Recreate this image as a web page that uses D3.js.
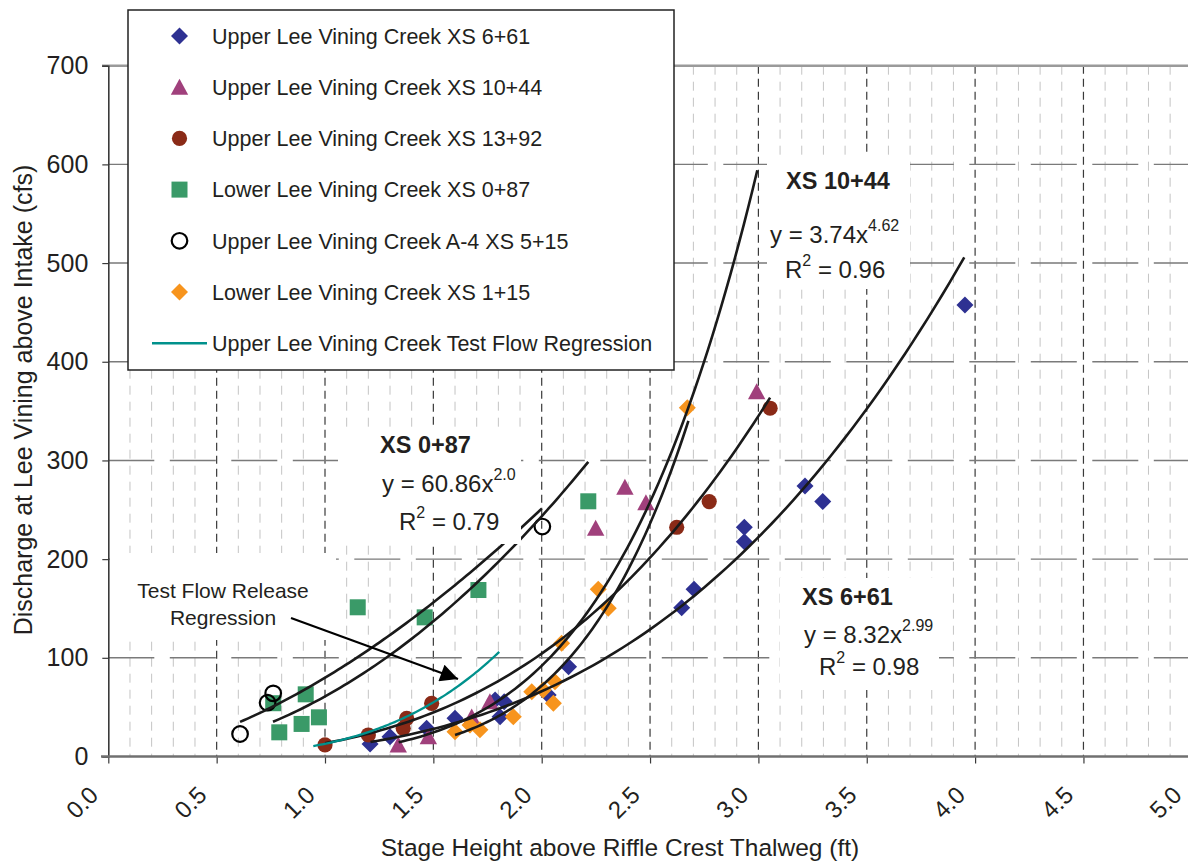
<!DOCTYPE html>
<html><head><meta charset="utf-8">
<script src="https://cdn.jsdelivr.net/npm/d3@7"></script>
<style>
html,body{margin:0;padding:0;background:#fff;}
svg{display:block;font-family:"Liberation Sans",Arial,Helvetica,sans-serif;}
</style></head><body>
<svg id="chart" width="1188" height="861"></svg>
<script>
// ---------- data ----------
const xTicks = [0, 0.5, 1, 1.5, 2, 2.5, 3, 3.5, 4, 4.5, 5];
const yTicks = [0, 100, 200, 300, 400, 500, 600, 700];

const legendNames = [
  "Upper Lee Vining Creek XS 6+61",
  "Upper Lee Vining Creek XS 10+44",
  "Upper Lee Vining Creek XS 13+92",
  "Lower Lee Vining Creek XS 0+87",
  "Upper Lee Vining Creek A-4 XS 5+15",
  "Lower Lee Vining Creek XS 1+15",
  "Upper Lee Vining Creek Test Flow Regression"
];

// [stage height (ft), discharge (cfs)]
const xs661 = [[1.208,12.7],[1.30,20],[1.469,28.6],[1.60,38.7],[1.785,57.3],[1.827,55.5],[1.808,40.3],
  [2.03,62.3],[2.124,91],[2.646,150.8],[2.703,169.4],[2.935,217.7],[2.935,232.3],[3.215,274.1],[3.297,258.3],[3.953,457.6]];
const xs1044 = [[1.338,11.7],[1.477,20],[1.677,40],[1.761,55.5],[2.249,231.3],[2.384,272.8],[2.481,257.2],[2.992,369.7]];
const xs1392 = [[1.0,11.7],[1.20,21.8],[1.361,28.6],[1.377,38.7],[1.492,53.9],[2.623,232.3],[2.773,258.3],[3.054,352.9]];
const xs087 = [[0.761,54],[0.789,24.5],[0.892,33],[0.911,63],[0.972,39.7],[1.151,151.2],[1.46,141],[1.708,168.7],[2.215,258.6]];
const xsA4 = [[0.608,22.8],[0.735,54.5],[0.761,64],[2.003,233]];
const xs115 = [[1.60,25],[1.669,32],[1.715,27],[1.869,40.3],[1.954,65.7],[2.007,67.4],[2.054,54],[2.061,75.8],
  [2.092,114.7],[2.261,169.4],[2.307,150.2],[2.672,353.5]];

// power-law trendlines y = a * x^b over [from, to]
const trendCoef = [8.32, 3.74, 13.5, 60.86, 79.8, 1.77];
const trendExp  = [2.99, 4.62, 2.95, 2.0, 1.654, 5.34];
const trendFrom = [1.21, 1.34, 1.0, 0.76, 0.608, 1.60];
const trendTo   = [3.95, 2.995, 3.054, 2.215, 2.0, 2.677];
// test flow regression (teal)
const testCoef = 12.9, testExp = 3.57, testFrom = 0.946, testTo = 1.804;

// ---------- setup ----------
const svg = d3.select("#chart");
const x = d3.scaleLinear().domain([0, 5]).range([108.3, 1191.8]);
const y = d3.scaleLinear().domain([0, 700]).range([756.5, 65.7]);
const txt = "#231f20";
const rightEdge = 1192;

// ---------- gridlines ----------
const grid = svg.append("g");
const minorX = d3.range(1, 50).map(i => i / 10).filter(v => Math.round(v * 10) % 5 !== 0);
grid.selectAll(".minor").data(minorX).enter().append("line")
  .attr("x1", d => x(d)).attr("x2", d => x(d))
  .attr("y1", y(700)).attr("y2", y(0))
  .attr("stroke", "#c4c4c4").attr("stroke-width", 1).attr("stroke-dasharray", "9,7");
grid.selectAll(".majorx").data(xTicks.filter(v => v > 0)).enter().append("line")
  .attr("x1", d => x(d)).attr("x2", d => x(d))
  .attr("y1", y(700)).attr("y2", y(0))
  .attr("stroke", "#3a3a3a").attr("stroke-width", 1.2).attr("stroke-dasharray", "8,5");
grid.selectAll(".majory").data(yTicks.filter(v => v > 0 && v < 700)).enter().append("line")
  .attr("x1", x(0)).attr("x2", rightEdge)
  .attr("y1", d => y(d)).attr("y2", d => y(d))
  .attr("stroke", "#7a7a7a").attr("stroke-width", 1.4).attr("stroke-dasharray", "46,15.5");
grid.append("line").attr("x1", 102).attr("x2", rightEdge).attr("y1", y(700)).attr("y2", y(700))
  .attr("stroke", "#9a9a9a").attr("stroke-width", 2.5);

// ---------- axes ----------
const yAxis = svg.append("g").attr("transform", `translate(${x(0)},0)`)
  .call(d3.axisLeft(y).tickValues(yTicks).tickSize(6).tickPadding(14).tickFormat(d3.format("d")));
yAxis.select(".domain").attr("stroke", "#3a3a3a").attr("stroke-width", 1.6);
yAxis.selectAll(".tick line").attr("stroke", "#3a3a3a").attr("stroke-width", 1.2);
yAxis.selectAll(".tick text").attr("font-size", 25).attr("fill", txt)
  .attr("font-family", '"Liberation Sans",Arial,sans-serif');

const xAxis = svg.append("g").attr("transform", `translate(0,${y(0)})`)
  .call(d3.axisBottom(x).tickValues(xTicks).tickSize(7).tickFormat(d3.format(".1f")));
xAxis.select(".domain").remove();
xAxis.selectAll(".tick line").attr("stroke", "#3a3a3a").attr("stroke-width", 1.2);
xAxis.selectAll(".tick text").attr("font-size", 24).attr("fill", txt)
  .attr("font-family", '"Liberation Sans",Arial,sans-serif')
  .attr("x", 0).attr("y", 0).attr("dy", 0)
  .attr("text-anchor", "end")
  .attr("transform", "translate(-9,40) rotate(-45)");
svg.append("line").attr("x1", 101).attr("x2", rightEdge).attr("y1", y(0)).attr("y2", y(0))
  .attr("stroke", "#707070").attr("stroke-width", 2.6);

// axis titles
svg.append("text").attr("x", 620).attr("y", 856).attr("text-anchor", "middle")
  .attr("font-size", 24.5).attr("fill", txt).text("Stage Height above Riffle Crest Thalweg (ft)");
svg.append("text").attr("transform", "translate(32,400) rotate(-90)").attr("text-anchor", "middle")
  .attr("font-size", 25).attr("fill", txt).text("Discharge at Lee Vining above Intake (cfs)");

// ---------- markers ----------
const colors = ["#2e3192", "#a0407c", "#8a2a17", "#3a9a68", "#000000", "#f7941d"];
const shapes = ["diamond", "triangle", "circle", "square", "open", "diamond"];
function drawMarker(g, shape, color) {
  if (shape === "diamond") g.append("path").attr("d", "M0,-8.5 L8.5,0 L0,8.5 L-8.5,0 Z").attr("fill", color);
  else if (shape === "triangle") g.append("path").attr("d", "M0,-8.5 L8.7,7.5 L-8.7,7.5 Z").attr("fill", color);
  else if (shape === "circle") g.append("circle").attr("r", 7.6).attr("fill", color);
  else if (shape === "square") g.append("rect").attr("x", -8).attr("y", -8).attr("width", 16).attr("height", 16).attr("fill", color);
  else if (shape === "open") g.append("circle").attr("r", 7.8).attr("fill", "none").attr("stroke", color).attr("stroke-width", 2.2);
}
const allSeries = [xs661, xs1044, xs1392, xs087, xsA4, xs115];
const markG = svg.append("g");
allSeries.forEach((s, i) => {
  s.forEach(p => {
    const g = markG.append("g").attr("transform", `translate(${x(p[0])},${y(p[1])})`);
    drawMarker(g, shapes[i], colors[i]);
  });
});

// ---------- trendlines ----------
const line = d3.line().x(d => x(d[0])).y(d => y(d[1])).curve(d3.curveLinear);
function powerCurve(a, b, from, to) {
  const n = 80;
  return d3.range(n + 1).map(i => { const xv = from + (to - from) * i / n; return [xv, a * Math.pow(xv, b)]; });
}
const trendG = svg.append("g");
trendCoef.forEach((a, i) => {
  trendG.append("path").attr("d", line(powerCurve(a, trendExp[i], trendFrom[i], trendTo[i])))
    .attr("fill", "none").attr("stroke", "#1a1a1a").attr("stroke-width", 2.6);
});
trendG.append("path").attr("d", line(powerCurve(testCoef, testExp, testFrom, testTo)))
  .attr("fill", "none").attr("stroke", "#00918c").attr("stroke-width", 2.3);

// ---------- annotation boxes ----------
const ann = svg.append("g");
[[338, 428, 183, 116], [767, 156, 143, 133], [780, 578, 159, 112], [110, 553, 226, 87]].forEach(r => {
  ann.append("rect").attr("x", r[0]).attr("y", r[1]).attr("width", r[2]).attr("height", r[3]).attr("fill", "#fff");
});

function eqLabel(title, tx, ty, eqMain, eqSup, ex, ey, r2, rx, ry) {
  ann.append("text").attr("x", tx).attr("y", ty).attr("font-size", 23.5).attr("font-weight", "bold")
    .attr("fill", txt).text(title);
  const e = ann.append("text").attr("x", ex).attr("y", ey).attr("font-size", 24).attr("fill", txt);
  e.append("tspan").text(eqMain);
  e.append("tspan").attr("dy", -12).attr("font-size", 16).text(eqSup);
  const r = ann.append("text").attr("x", rx).attr("y", ry).attr("font-size", 24).attr("fill", txt);
  r.append("tspan").text("R");
  r.append("tspan").attr("dy", -12).attr("font-size", 16).text("2");
  r.append("tspan").attr("dy", 12).text(" = " + r2);
}
eqLabel("XS 0+87", 380, 453, "y = 60.86x", "2.0", 382, 492, "0.79", 399, 530);
eqLabel("XS 10+44", 786, 189, "y = 3.74x", "4.62", 770, 243, "0.96", 785, 278);
eqLabel("XS 6+61", 802, 605, "y = 8.32x", "2.99", 804, 643, "0.98", 819, 675);

ann.append("text").attr("x", 223).attr("y", 598).attr("text-anchor", "middle").attr("font-size", 21)
  .attr("fill", txt).text("Test Flow Release");
ann.append("text").attr("x", 223).attr("y", 625).attr("text-anchor", "middle").attr("font-size", 21)
  .attr("fill", txt).text("Regression");

// arrow
svg.append("defs").append("marker").attr("id", "ah").attr("viewBox", "0 0 10 10")
  .attr("refX", 10).attr("refY", 5).attr("markerWidth", 9).attr("markerHeight", 8)
  .attr("markerUnits", "strokeWidth").attr("orient", "auto")
  .append("path").attr("d", "M0,0 L10,5 L0,10 Z").attr("fill", "#000");
svg.append("line").attr("x1", 291).attr("y1", 618).attr("x2", 458).attr("y2", 679)
  .attr("stroke", "#000").attr("stroke-width", 2.2).attr("marker-end", "url(#ah)");

// ---------- legend ----------
const leg = svg.append("g");
leg.append("rect").attr("x", 128).attr("y", 10).attr("width", 546).attr("height", 360)
  .attr("fill", "#fff").attr("stroke", "#222").attr("stroke-width", 1.5);
legendNames.forEach((name, i) => {
  const cy = 36 + i * 51.2;
  if (i < 6) {
    const g = leg.append("g").attr("transform", `translate(179.5,${cy})`);
    drawMarker(g, shapes[i], colors[i]);
  } else {
    leg.append("line").attr("x1", 152).attr("x2", 207).attr("y1", cy).attr("y2", cy)
      .attr("stroke", "#00918c").attr("stroke-width", 2.6);
  }
  leg.append("text").attr("x", 212).attr("y", cy).attr("dy", "0.36em").attr("font-size", 21.5)
    .attr("fill", txt).text(name);
});
</script>
</body></html>
